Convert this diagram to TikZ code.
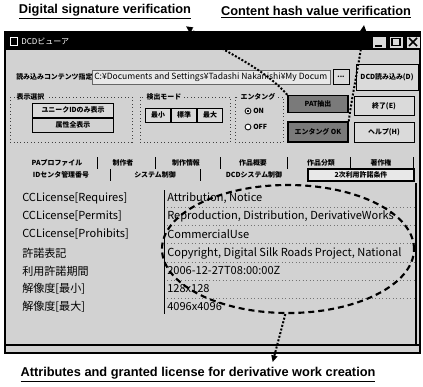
\documentclass[tikz,border=0pt]{standalone}
\usepackage{fontspec}
\setmainfont{Liberation Sans}
\newfontfamily\jp{Noto Sans CJK JP}
\usetikzlibrary{arrows.meta,shapes.geometric}
\definecolor{winbg}{HTML}{D2D2D2}
\definecolor{fieldbg}{HTML}{E8E8E8}
\definecolor{darkbtn}{HTML}{7A7A7A}
\definecolor{btnface}{HTML}{DADADA}
\begin{document}
\begin{tikzpicture}[x=0.75pt,y=-0.75pt,
 sz/.style 2 args={minimum width=#1*0.75pt,minimum height=#2*0.75pt},
 note/.style={font=\fontsize{9.6}{11}\selectfont\bfseries, inner sep=0pt},
 ui/.style={font=\jp\bfseries\fontsize{5.2}{6}\selectfont, inner sep=0pt},
 cell/.style={font=\jp\fontsize{8.3}{9}\selectfont, inner sep=0pt, anchor=west},
 btn/.style={draw=black, fill=btnface, line width=0.7pt, inner sep=0pt, font=\jp\bfseries\fontsize{5.2}{6}\selectfont},
 dbtn/.style={btn, fill=darkbtn, line width=1.1pt},
 grp/.style={draw=black!75, dotted, line width=0.6pt},
 tabsep/.style={line width=0.7pt},
 conn/.style={line width=1.5pt, dash pattern=on 1.5pt off 1.3pt, -{Triangle[length=5pt,width=4.5pt]}},
]
\useasboundingbox (0,0) rectangle (423,386);
\fill[white] (0,0) rectangle (423,386);

% window
\draw[line width=1.6pt, fill=winbg] (5,32) rectangle (420,353);
\fill[black] (5,32) rectangle (420,50);
\node[draw=white, line width=0.6pt, sz={7}{8}, inner sep=0pt] (icon) at (14,41) {};
\node[font=\jp\fontsize{6}{7}\selectfont, text=white, anchor=west, inner sep=0pt] (title) at (21,41) {DCDビューア};
\node[btn, sz={14}{12}] (bmin) at (379,42) {};
\node[btn, sz={14}{12}] (bmax) at (396,42) {};
\node[btn, sz={14}{12}] (bcls) at (413,42) {};
\draw[line width=1.2pt] (375,46) -- (382,46);
\draw[line width=0.8pt] (392,38.5) rectangle (400,45.5);
\draw[line width=1.2pt] (409,38) -- (417,46) (417,38) -- (409,46);

% file row
\node[ui, anchor=west] (rdlbl) at (16,77) {読み込みコンテンツ指定};
\node[draw=black!60, fill=fieldbg, sz={238}{14}, anchor=west, inner sep=0pt] (field) at (92,77) {};
\node[font=\jp\fontsize{6.4}{7}\selectfont, anchor=west, inner sep=0pt] (path) at (94,77) {C:¥Documents and Settings¥Tadashi Nakanishi¥My Docum};
\node[btn, sz={16}{15}] (dots) at (341,77) {...};
\node[btn, sz={62}{26}] (dcd) at (387,77) {DCD読み込み(D)};

% group 1
\draw[grp] (10,97) rectangle (132,142);
\node[ui, fill=winbg, inner xsep=1pt, anchor=west] (g1) at (15,97) {表示選択};
\node[btn, sz={81}{14}] (uid) at (73,110) {ユニークIDのみ表示};
\node[btn, sz={81}{14}, fill=winbg] (allattr) at (73,125) {属性全表示};

% group 2
\draw[grp] (140,97) rectangle (230,142);
\node[ui, fill=winbg, inner xsep=1pt, anchor=west] (g2) at (145,97) {検出モード};
\node[btn, sz={25}{14}] (mn) at (158,115) {最小};
\node[btn, sz={25}{14}] (st) at (184,115) {標準};
\node[btn, sz={25}{14}] (mx) at (210,115) {最大};

% group 3
\draw[grp] (235,97) rectangle (283,142);
\node[ui, fill=winbg, inner xsep=1pt, anchor=west] (g3) at (239,97) {エンタング};
\draw[line width=0.6pt, fill=white] (248,111) circle (2.2pt);
\fill (248,111) circle (1pt);
\draw[line width=0.6pt, fill=white] (248,127) circle (2.2pt);
\node[ui, anchor=west] (on) at (253,111) {ON};
\node[ui, anchor=west] (off) at (253,127) {OFF};

% action buttons
\node[dbtn, sz={60}{17}] (pat) at (318,104) {PAT抽出};
\node[dbtn, sz={60}{20}] (entok) at (318,132) {エンタング OK};
\node[btn, sz={60}{19}] (quit) at (384,106) {終了(E)};
\node[btn, sz={60}{20}] (help) at (384,132) {ヘルプ(H)};

% tabs row 1
\node[ui] (t1) at (57,163) {PAプロファイル};
\node[ui] (t2) at (123,163) {制作者};
\node[ui] (t3) at (186,163) {制作情報};
\node[ui] (t4) at (253,163) {作品概要};
\node[ui] (t5) at (321,163) {作品分類};
\node[ui] (t6) at (381,163) {著作権};
\foreach \xx in {97,155,220,287,350,413} \draw[tabsep] (\xx,157) -- (\xx,169);
% tabs row 2
\node[ui] (u1) at (61,175) {IDセンタ管理番号};
\node[ui] (u2) at (155,175) {システム制御};
\node[ui] (u3) at (254,175) {DCDシステム制御};
\foreach \xx in {110,200} \draw[tabsep] (\xx,169) -- (\xx,181);
\node[draw=black, line width=0.8pt, fill=fieldbg, sz={106}{12}, ui] (u4) at (361,175) {2次利用許諾条件};

% content
\draw[line width=1.4pt] (416,183) -- (416,345);
\draw[line width=0.8pt] (5,345) -- (420,345);
\foreach \yy in {207,225,243,262,280,298} \draw[black!55, dotted, line width=0.6pt] (164,\yy) -- (414,\yy);
\draw[line width=0.6pt] (164,190) -- (164,314);
\node[cell] (k1) at (22,198) {CCLicense[Requires]};
\node[cell] (k2) at (22,216) {CCLicense[Permits]};
\node[cell] (k3) at (22,234) {CCLicense[Prohibits]};
\node[cell] (k4) at (22,253) {許諾表記};
\node[cell] (k5) at (22,271) {利用許諾期間};
\node[cell] (k6) at (22,289) {解像度[最小]};
\node[cell] (k7) at (22,307) {解像度[最大]};
\node[cell] (v1) at (167,198) {Attribution, Notice};
\node[cell] (v2) at (167,216) {Reproduction, Distribution, DerivativeWorks};
\node[cell] (v3) at (167,234) {CommercialUse};
\node[cell] (v4) at (167,253) {Copyright, Digital Silk Roads Project, National};
\node[cell] (v5) at (167,271) {2006-12-27T08:00:00Z};
\node[cell] (v6) at (167,289) {128x128};
\node[cell] (v7) at (167,307) {4096x4096};

% annotations
\node[ellipse, draw, line width=1.6pt, dash pattern=on 4.5pt off 3pt, sz={252}{128}, inner sep=0pt] (ell) at (288,249) {};
\node[note] (ds) at (105,12) {\underline{Digital signature verification}};
\node[note] (ch) at (316,12) {\underline{Content hash value verification}};
\node[note] (attr) at (198,375) {\underline{Attributes and granted license for derivative work creation}};

\draw[conn] (pat.north west) .. controls (262,66) and (220,50) .. ([shift={(-4pt,-5pt)}]ds.south east);
\draw[conn] (entok.north east) .. controls (352,95) and (360,60) .. ([shift={(36pt,-5pt)}]ch.south);
\draw[conn] ([xshift=-2pt]ell.south) -- ([shift={(56pt,4pt)}]attr.north);
\end{tikzpicture}
\end{document}
